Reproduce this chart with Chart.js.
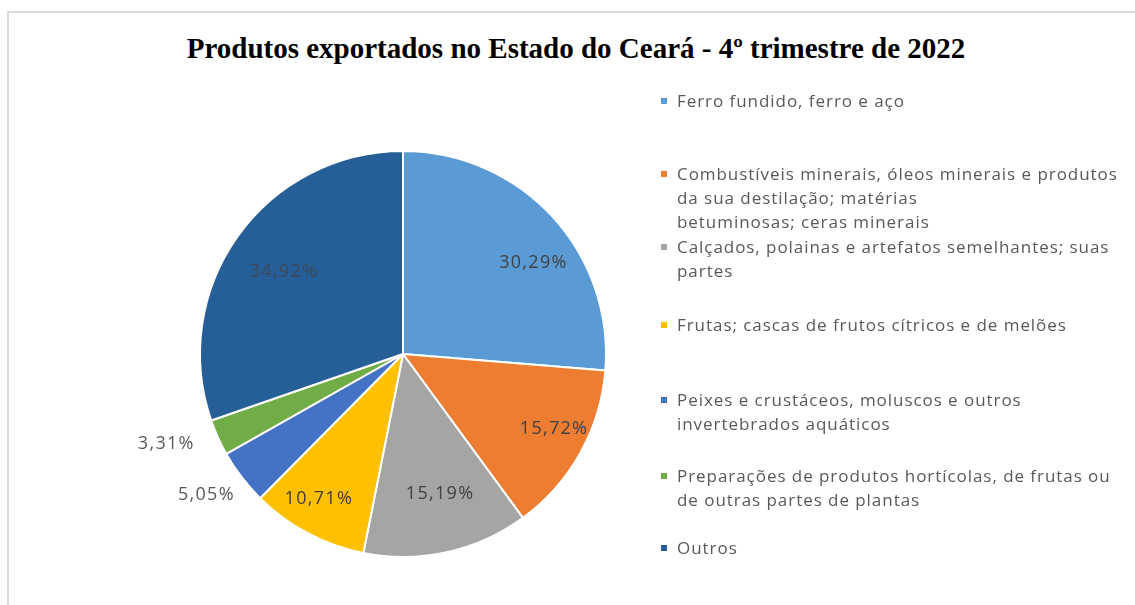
<!DOCTYPE html>
<html>
<head>
<meta charset="utf-8">
<script src="https://cdn.jsdelivr.net/npm/chart.js@4"></script>
<style>
  html, body { margin: 0; padding: 0; background: #fff; }
  #wrap { position: relative; width: 1135px; height: 605px; overflow: hidden; }
  #frame { position: absolute; left: 7px; top: 11px; width: 1140px; height: 610px;
           border-top: 2px solid #dcdcdc; border-left: 2px solid #dcdcdc; box-sizing: border-box; }
  #title { position: absolute; left: 0; width: 1152px; top: 29px; text-align: center;
           font-family: "Liberation Serif", "Times New Roman", serif; font-weight: bold;
           font-size: 29px; color: #000; line-height: 38px; white-space: nowrap; }
  canvas { position: absolute; left: 0; top: 0; }
  .lg { position: absolute; left: 677px; font-family: "Open Sans", sans-serif; font-size: 17px;
        letter-spacing: 0.95px; line-height: 24px; color: #595959; white-space: pre; }
  .sw { position: absolute; left: -16px; top: 9px; width: 6px; height: 6px; }
</style>
</head>
<body>
<div id="wrap">
  <div id="frame"></div>
  <div id="title">Produtos exportados no Estado do Ceará - 4º trimestre de 2022</div>
  <canvas id="c" width="1135" height="605"></canvas>
  <div id="legend"></div>
</div>
<script>
const categories = [
  "Ferro fundido, ferro e aço",
  "Combustíveis minerais, óleos minerais e produtos\nda sua destilação; matérias\nbetuminosas; ceras minerais",
  "Calçados, polainas e artefatos semelhantes; suas\npartes",
  "Frutas; cascas de frutos cítricos e de melões",
  "Peixes e crustáceos, moluscos e outros\ninvertebrados aquáticos",
  "Preparações de produtos hortícolas, de frutas ou\nde outras partes de plantas",
  "Outros"
];
const values = [30.29, 15.72, 15.19, 10.71, 5.05, 3.31, 34.92];
const colors = ["#5B9BD5", "#ED7D31", "#A5A5A5", "#FFC000", "#4472C4", "#70AD47", "#265F97"];
const labelRadius = [0.80, 0.83, 0.71, 0.82, 1.20, 1.22, 0.72];
const labelNudge = [[11, 19], [4, -7], [6, -1], [-6, -2], [-3, -7], [-11, -12], [0, 3]];
const labelColors = ["#404040", "#404040", "#404040", "#404040", "#595959", "#595959", "#3b4a5c"];
const legendTops = [101, 174, 247, 325, 400, 476, 548];

// legend (HTML)
const lg = document.getElementById('legend');
categories.forEach((c, i) => {
  const d = document.createElement('div');
  d.className = 'lg';
  d.style.top = (legendTops[i] - 12) + 'px';
  d.textContent = c;
  const s = document.createElement('span');
  s.className = 'sw';
  s.style.background = colors[i];
  d.appendChild(s);
  lg.appendChild(d);
});

const labelPlugin = {
  id: 'sliceLabels',
  afterDatasetsDraw(chart) {
    const ctx = chart.ctx;
    const meta = chart.getDatasetMeta(0);
    ctx.save();
    ctx.font = '18px "Open Sans", sans-serif';
    if ('letterSpacing' in ctx) ctx.letterSpacing = '1.3px';
    ctx.textAlign = 'center';
    ctx.textBaseline = 'middle';
    meta.data.forEach((arc, i) => {
      const p = arc.getProps(['x', 'y', 'startAngle', 'endAngle', 'outerRadius'], true);
      const mid = (p.startAngle + p.endAngle) / 2;
      const d = p.outerRadius * labelRadius[i];
      const tx = p.x + Math.cos(mid) * d + labelNudge[i][0];
      const ty = p.y + Math.sin(mid) * d + labelNudge[i][1];
      ctx.fillStyle = labelColors[i];
      ctx.fillText(values[i].toFixed(2).replace('.', ',') + '%', tx, ty);
    });
    ctx.restore();
  }
};

new Chart(document.getElementById('c'), {
  type: 'pie',
  data: {
    labels: categories,
    datasets: [{
      data: values,
      backgroundColor: colors,
      borderColor: '#ffffff',
      borderWidth: 2,
      hoverOffset: 0
    }]
  },
  options: {
    responsive: false,
    animation: false,
    radius: 203,
    layout: { padding: { left: 0, right: 329, top: 103, bottom: 0 } },
    plugins: { legend: { display: false }, tooltip: { enabled: false }, title: { display: false } }
  },
  plugins: [labelPlugin]
});
</script>
</body>
</html>
